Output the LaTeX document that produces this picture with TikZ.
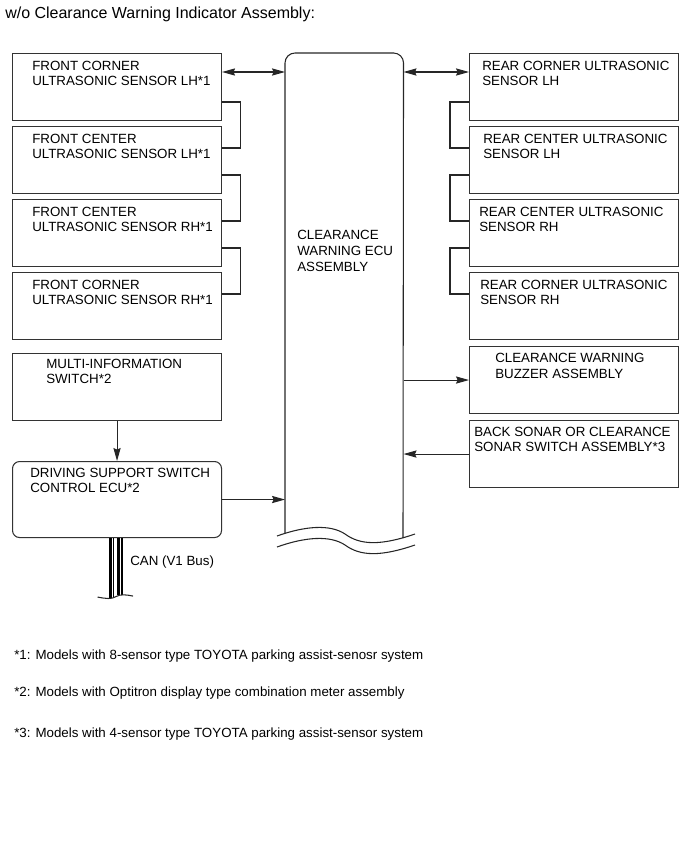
\documentclass[tikz,border=0pt]{standalone}
\usepackage{fontspec}
\setmainfont{Liberation Sans}
\usetikzlibrary{arrows.meta,calc}
\begin{document}
\begin{tikzpicture}[x=0.75pt,y=-0.75pt,
  box/.style={draw=black!80, line width=0.8pt, minimum width=156.75pt, minimum height=50.25pt, inner sep=0pt, anchor=north west},
  lbl/.style={anchor=north west, inner sep=0pt, align=left, font=\fontsize{10}{11.6}\selectfont},
  conn/.style={line width=0.8pt, draw=black!85},
  tip/.tip={Stealth[length=9.75pt,width=5.4pt,inset=1.2pt]},
  arr/.style={conn, -tip},
  darr/.style={conn, tip-tip},
  foot/.style={anchor=west, inner sep=0pt, font=\fontsize{10}{12}\selectfont},
  bus/.style={line width=#1, draw=black}
]
\useasboundingbox (0,0) rectangle (690,853);

\node[anchor=west, inner sep=0pt, font=\fontsize{12}{14}\selectfont] (title) at (5,14) {w/o Clearance Warning Indicator Assembly:};

% left boxes
\node[box] (fl1) at (12,53) {};
\node[box] (fl2) at (12,126) {};
\node[box] (fl3) at (12,199) {};
\node[box] (fl4) at (12,272) {};
\node[box] (multi) at (12,353) {};
\node[box, rounded corners=5.25pt, minimum height=57pt] (dss) at (12,461) {};

% right boxes
\node[box] (rr1) at (469,53) {};
\node[box] (rr2) at (469,126) {};
\node[box] (rr3) at (469,199) {};
\node[box] (rr4) at (469,272) {};
\node[box] (buzz) at (469,346) {};
\node[box] (sonar) at (469,420) {};

% labels
\node[lbl] (tfl1) at ($(fl1.north west)+(20,7.5)$) {FRONT CORNER\\ULTRASONIC SENSOR LH*1};
\node[lbl] (tfl2) at ($(fl2.north west)+(20,7.5)$) {FRONT CENTER\\ULTRASONIC SENSOR LH*1};
\node[lbl] (tfl3) at ($(fl3.north west)+(20,7.5)$) {FRONT CENTER\\ULTRASONIC SENSOR RH*1};
\node[lbl] (tfl4) at ($(fl4.north west)+(20,7.5)$) {FRONT CORNER\\ULTRASONIC SENSOR RH*1};
\node[lbl] (tmulti) at ($(multi.north west)+(34,5.5)$) {MULTI-INFORMATION\\SWITCH*2};
\node[lbl] (tdss) at ($(dss.north west)+(18,6.5)$) {DRIVING SUPPORT SWITCH\\CONTROL ECU*2};
\node[lbl] (trr1) at ($(rr1.north west)+(13,7.5)$) {REAR CORNER ULTRASONIC\\SENSOR LH};
\node[lbl] (trr2) at ($(rr2.north west)+(14,7.5)$) {REAR CENTER ULTRASONIC\\SENSOR LH};
\node[lbl] (trr3) at ($(rr3.north west)+(10,7.5)$) {REAR CENTER ULTRASONIC\\SENSOR RH};
\node[lbl] (trr4) at ($(rr4.north west)+(11,7.5)$) {REAR CORNER ULTRASONIC\\SENSOR RH};
\node[lbl] (tbuzz) at ($(buzz.north west)+(26,7)$) {CLEARANCE WARNING\\BUZZER ASSEMBLY};
\node[lbl] (tsonar) at ($(sonar.north west)+(5,6.5)$) {BACK SONAR OR CLEARANCE\\SONAR SWITCH ASSEMBLY*3};

% ECU
\node[inner sep=0pt, minimum width=88.5pt, minimum height=365pt, anchor=north west] (ecu) at (285,53) {};
\draw[conn, rounded corners=7.5pt] (285,533) -- (ecu.north west) -- (ecu.north east) -- (403,538);
\draw[conn] (277,536) .. controls (305,526) and (330,524) .. (345,534) .. controls (360,545) and (380,546) .. (415,534);
\draw[conn] (277,547) .. controls (305,537) and (330,535) .. (345,545) .. controls (360,556) and (380,557) .. (415,545);
\node[lbl, font=\fontsize{10}{12}\selectfont] (tecu) at (297,230) {CLEARANCE\\WARNING ECU\\ASSEMBLY};

% connectors
\draw[darr] ($(fl1.north east)+(0,19)$) -- ($(ecu.north west)+(0,19)$);
\draw[darr] ($(ecu.north east)+(0,19)$) -- ($(rr1.north west)+(0,19)$);
\draw[conn] ($(fl1.north east)+(0,49)$) -| ($(fl2.north east)+(18,22)$) -- ($(fl2.north east)+(0,22)$);
\draw[conn] ($(fl2.north east)+(0,49)$) -| ($(fl3.north east)+(18,22)$) -- ($(fl3.north east)+(0,22)$);
\draw[conn] ($(fl3.north east)+(0,49)$) -| ($(fl4.north east)+(18,22)$) -- ($(fl4.north east)+(0,22)$);
\draw[conn] ($(rr1.north west)+(0,49)$) -| ($(rr2.north west)+(-19,22)$) -- ($(rr2.north west)+(0,22)$);
\draw[conn] ($(rr2.north west)+(0,49)$) -| ($(rr3.north west)+(-19,22)$) -- ($(rr3.north west)+(0,22)$);
\draw[conn] ($(rr3.north west)+(0,49)$) -| ($(rr4.north west)+(-19,22)$) -- ($(rr4.north west)+(0,22)$);
\draw[arr] (multi.south) -- (dss.north);
\draw[arr] (dss.east) -- (dss.east -| ecu.west);
\draw[arr] (buzz.west -| ecu.east) -- (buzz.west);
\draw[arr] (sonar.west) -- (sonar.west -| ecu.east);

% CAN bus
\coordinate (busend) at ($(dss.south)+(0,59)$);
\draw[bus=1.9pt] ($(dss.south)+(-6.8,0)$) -- ($(busend)+(-6.8,1)$);
\draw[bus=0.8pt] ($(dss.south)+(-3.6,0)$) -- ($(busend)+(-3.6,0)$);
\draw[bus=1.7pt] ($(dss.south)+(1.4,0)$) -- ($(busend)+(1.4,-2)$);
\draw[bus=1.3pt] ($(dss.south)+(4.8,0)$) -- ($(busend)+(4.8,-2)$);
\draw[conn] ($(busend)+(-19.5,0)$) .. controls ($(busend)+(-11,1.5)$) and ($(busend)+(-6,2.5)$) .. ($(busend)+(-1,-0.5)$) .. controls ($(busend)+(3,-3)$) and ($(busend)+(9,-2.5)$) .. ($(busend)+(16,-1)$);
\node[anchor=west, inner sep=0pt, font=\fontsize{10}{11.6}\selectfont] (can) at (130,562) {CAN (V1 Bus)};

% footnotes
\node[foot] (n1) at (14,656) {*1: Models with 8-sensor type TOYOTA parking assist-senosr system};
\node[foot] (n2) at (14,693) {*2: Models with Optitron display type combination meter assembly};
\node[foot] (n3) at (14,734) {*3: Models with 4-sensor type TOYOTA parking assist-sensor system};
\end{tikzpicture}
\end{document}
